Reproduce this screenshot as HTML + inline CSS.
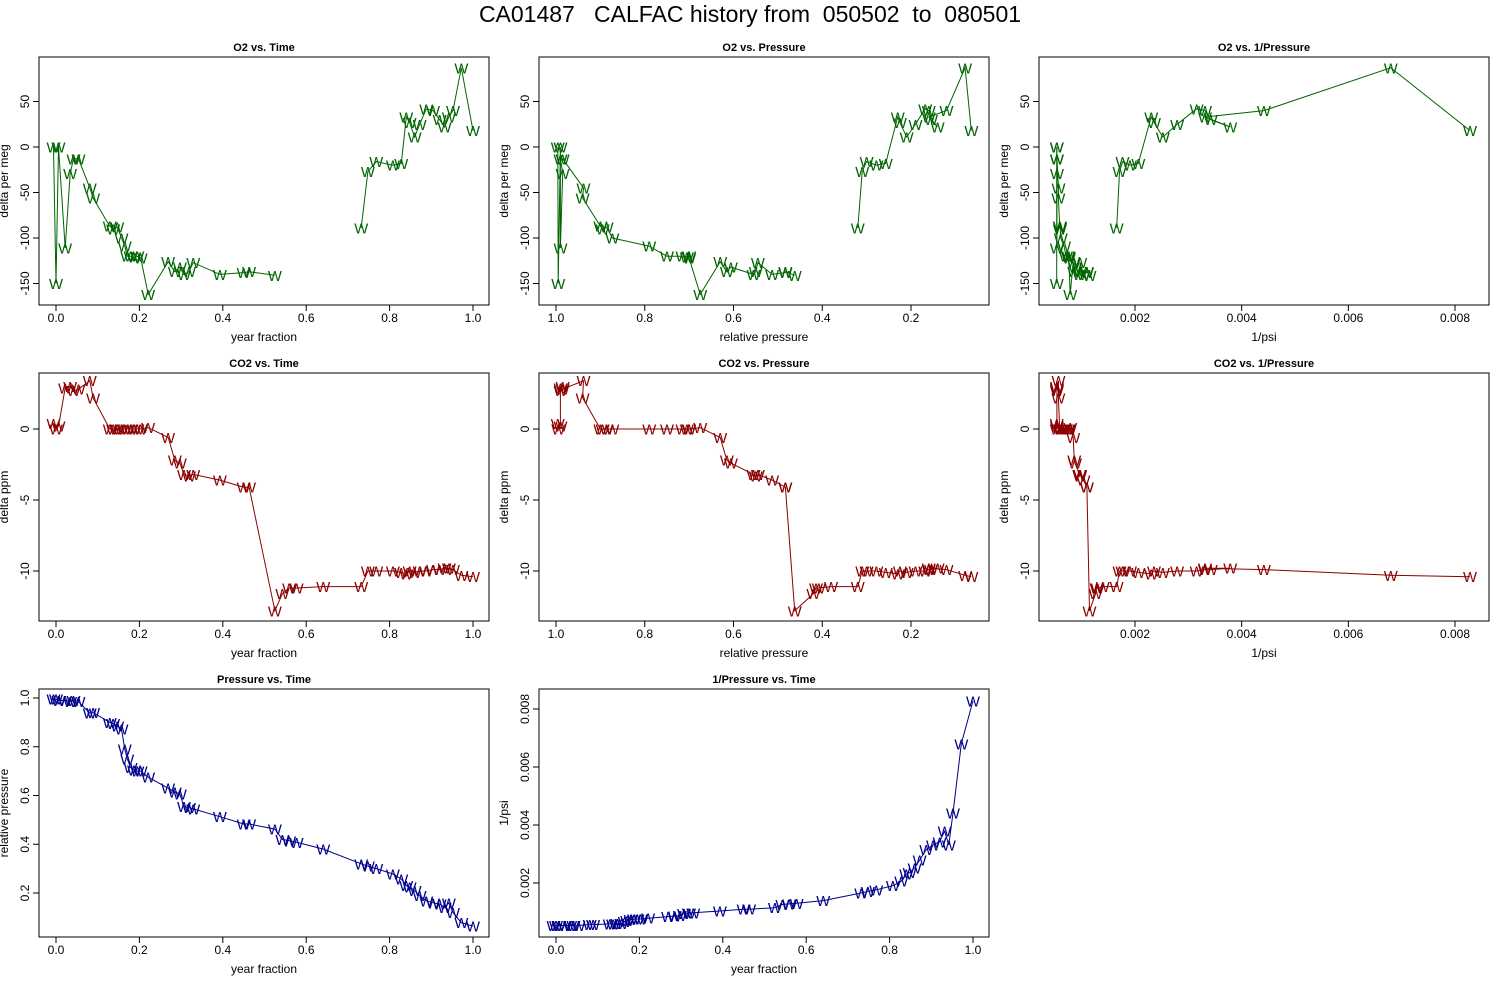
<!DOCTYPE html>
<html><head><meta charset="utf-8"><style>
body{margin:0;background:#fff;}
svg{display:block;font-family:"Liberation Sans",sans-serif;}
</style></head><body>
<svg id="c" width="1500" height="1000" xmlns="http://www.w3.org/2000/svg">
<rect width="1500" height="1000" fill="#fff"/>
<text x="750" y="22" font-size="23" text-anchor="middle" xml:space="preserve">CA01487   CALFAC history from  050502  to  080501</text>
</svg>
<script>
// data (shared sample times)
const yearFraction=[-0.006,0.0,0.006,0.022,0.034,0.042,0.054,0.081,0.089,0.129,0.137,0.147,0.157,0.165,0.171,0.179,0.187,0.195,0.203,0.221,0.269,0.285,0.297,0.307,0.319,0.329,0.393,0.450,0.463,0.525,0.543,0.559,0.577,0.641,0.732,0.748,0.768,0.808,0.828,0.840,0.848,0.860,0.872,0.888,0.904,0.920,0.932,0.942,0.952,0.972,1.0];
const relPressure=[0.996,0.995,0.99,0.99,0.985,0.99,0.985,0.938,0.94,0.90,0.895,0.886,0.873,0.79,0.75,0.715,0.705,0.70,0.70,0.675,0.63,0.615,0.606,0.555,0.55,0.545,0.513,0.483,0.483,0.462,0.42,0.414,0.408,0.38,0.32,0.31,0.30,0.278,0.257,0.23,0.225,0.21,0.19,0.168,0.16,0.155,0.14,0.16,0.12,0.078,0.064];
const o2Delta=[0,-150,0,-111,-29,-13,-13,-45,-56,-87,-90,-88,-100,-109,-120,-120,-121,-120,-122,-162,-126,-137,-132,-140,-137,-127,-140,-138,-137,-141,null,null,null,null,-89,-27,-16,-20,-18,33,27,11,25,42,40,30,22,33,40,87,18];
const co2Delta=[0.4,0,0.2,2.9,3.0,2.7,2.8,3.4,2.2,0,0,0,0,0,0,0,0,0,0,0.1,-0.6,-2.2,-2.4,-3.2,-3.3,-3.2,-3.6,-4.1,-4.1,-12.8,-11.6,-11.2,-11.2,-11.1,-11.1,-10,-10,-10,-10.1,-10.2,-10,-10.1,-10,-10,-9.9,-9.9,-9.8,-9.8,-9.9,-10.3,-10.4];
const invPsiScale=0.00053; // 1/psi at full pressure
const invPsi=relPressure.map(p=>invPsiScale/p);
const yearTicks=[0,0.2,0.4,0.6,0.8,1.0];
const presTicks=[1.0,0.8,0.6,0.4,0.2];
const invTicks=[0.002,0.004,0.006,0.008];
const o2Ticks=[50,0,-50,-100,-150];
const co2Ticks=[0,-5,-10];
const presYTicks=[0.2,0.4,0.6,0.8,1.0];

const NS="http://www.w3.org/2000/svg";
const svg=document.getElementById('c');
function el(tag,attrs,parent){const e=document.createElementNS(NS,tag);for(const k in attrs)e.setAttribute(k,attrs[k]);(parent||svg).appendChild(e);return e;}
const lin=(d0,d1,r0,r1)=>v=>r0+(v-d0)*(r1-r0)/(d1-d0);
// x scales relative to panel left edge
const xYear=lin(0,1,17,434), xPres=lin(1,0.2,17,372), xInv=lin(0.002,0.008,96,416);
const fmtYear=v=>v.toFixed(1), fmtInv=v=>v.toFixed(3), fmtInt=v=>String(v);
const cols=[39,539,1039], rows=[57,373,689];
const GREEN='#006400', RED='#8b0000', BLUE='#00008b';
const panels=[
 {name:'o2-vs-time',title:'O2 vs. Time',c:0,r:0,xs:xYear,xt:yearTicks,xf:fmtYear,xl:'year fraction',yt:o2Ticks,yf:fmtInt,yl:'delta per meg',xv:yearFraction,yv:o2Delta,col:GREEN},
 {name:'o2-vs-pressure',title:'O2 vs. Pressure',c:1,r:0,xs:xPres,xt:presTicks,xf:fmtYear,xl:'relative pressure',yt:o2Ticks,yf:fmtInt,yl:'delta per meg',xv:relPressure,yv:o2Delta,col:GREEN},
 {name:'o2-vs-inv-pressure',title:'O2 vs. 1/Pressure',c:2,r:0,xs:xInv,xt:invTicks,xf:fmtInv,xl:'1/psi',yt:o2Ticks,yf:fmtInt,yl:'delta per meg',xv:invPsi,yv:o2Delta,col:GREEN},
 {name:'co2-vs-time',title:'CO2 vs. Time',c:0,r:1,xs:xYear,xt:yearTicks,xf:fmtYear,xl:'year fraction',yt:co2Ticks,yf:fmtInt,yl:'delta ppm',xv:yearFraction,yv:co2Delta,col:RED},
 {name:'co2-vs-pressure',title:'CO2 vs. Pressure',c:1,r:1,xs:xPres,xt:presTicks,xf:fmtYear,xl:'relative pressure',yt:co2Ticks,yf:fmtInt,yl:'delta ppm',xv:relPressure,yv:co2Delta,col:RED},
 {name:'co2-vs-inv-pressure',title:'CO2 vs. 1/Pressure',c:2,r:1,xs:xInv,xt:invTicks,xf:fmtInv,xl:'1/psi',yt:co2Ticks,yf:fmtInt,yl:'delta ppm',xv:invPsi,yv:co2Delta,col:RED},
 {name:'pressure-vs-time',title:'Pressure vs. Time',c:0,r:2,xs:xYear,xt:yearTicks,xf:fmtYear,xl:'year fraction',yt:presYTicks,yf:fmtYear,yl:'relative pressure',xv:yearFraction,yv:relPressure,col:BLUE},
 {name:'inv-pressure-vs-time',title:'1/Pressure vs. Time',c:1,r:2,xs:xYear,xt:yearTicks,xf:fmtYear,xl:'year fraction',yt:invTicks,yf:fmtInv,yl:'1/psi',xv:yearFraction,yv:invPsi,col:BLUE}
];
panels.forEach(p=>{
  const L=cols[p.c], T=rows[p.r], R=L+450, B=T+248;
  const X=v=>L+p.xs(v);
  let ys;
  if(p.r===0) ys=lin(0,-100,147,238);
  else if(p.r===1) ys=lin(0,-10,429,571);
  else if(p.c===0) ys=lin(1,0.2,698,893);
  else ys=lin(0.002,0.008,883,709);
  const g=el('g',{});
  
  
  const t=el('text',{x:(L+R)/2,y:T-6,'font-size':11,'font-weight':'bold','text-anchor':'middle'},g);
  
  
  t.textContent=p.title;
  const ax=el('g',{},g);
  
  
  p.xt.forEach(v=>{const x=X(v);
    el('line',{x1:x,x2:x,y1:B,y2:B+6,stroke:'#000'},ax);
    const tx=el('text',{x:x,y:B+17,'font-size':12,'text-anchor':'middle'},ax);tx.textContent=p.xf(v);});
  const xl=el('text',{x:(L+R)/2,y:B+36,'font-size':12,'text-anchor':'middle'},g);
  
  
  xl.textContent=p.xl;
  const ay=el('g',{},g);
  
  
  p.yt.forEach(v=>{const y=ys(v);
    el('line',{x1:L-6,x2:L,y1:y,y2:y,stroke:'#000'},ay);
    const tx=el('text',{x:L-10,y:y,'font-size':12,'text-anchor':'middle',transform:`rotate(-90 ${L-10} ${y})`},ay);tx.textContent=p.yf(v);});
  const yl=el('text',{x:L-31,y:(T+B)/2,'font-size':12,'text-anchor':'middle',transform:`rotate(-90 ${L-31} ${(T+B)/2})`},g);
  
  
  yl.textContent=p.yl;
  let d='',pen=false;
  for(let i=0;i<p.xv.length;i++){const yv=p.yv[i];
    if(yv===null||yv===undefined){pen=false;continue;}
    d+=(pen?'L':'M')+X(p.xv[i]).toFixed(1)+' '+ys(yv).toFixed(1);pen=true;}
  const path=el('path',{d:d,fill:'none',stroke:p.col,'stroke-width':1},g);
  
  
  for(let i=0;i<p.xv.length;i++){const yv=p.yv[i];
    if(yv===null||yv===undefined) continue;
    const m=el('text',{x:X(p.xv[i]),y:ys(yv)+5.5,'font-size':15,fill:p.col,'text-anchor':'middle','textLength':14,'lengthAdjust':'spacingAndGlyphs'},g);
    
    
    m.textContent='W';}
  const box=el('rect',{x:L,y:T,width:450,height:248,fill:'none',stroke:'#000'},g);
  
  
});
</script>
</body></html>
